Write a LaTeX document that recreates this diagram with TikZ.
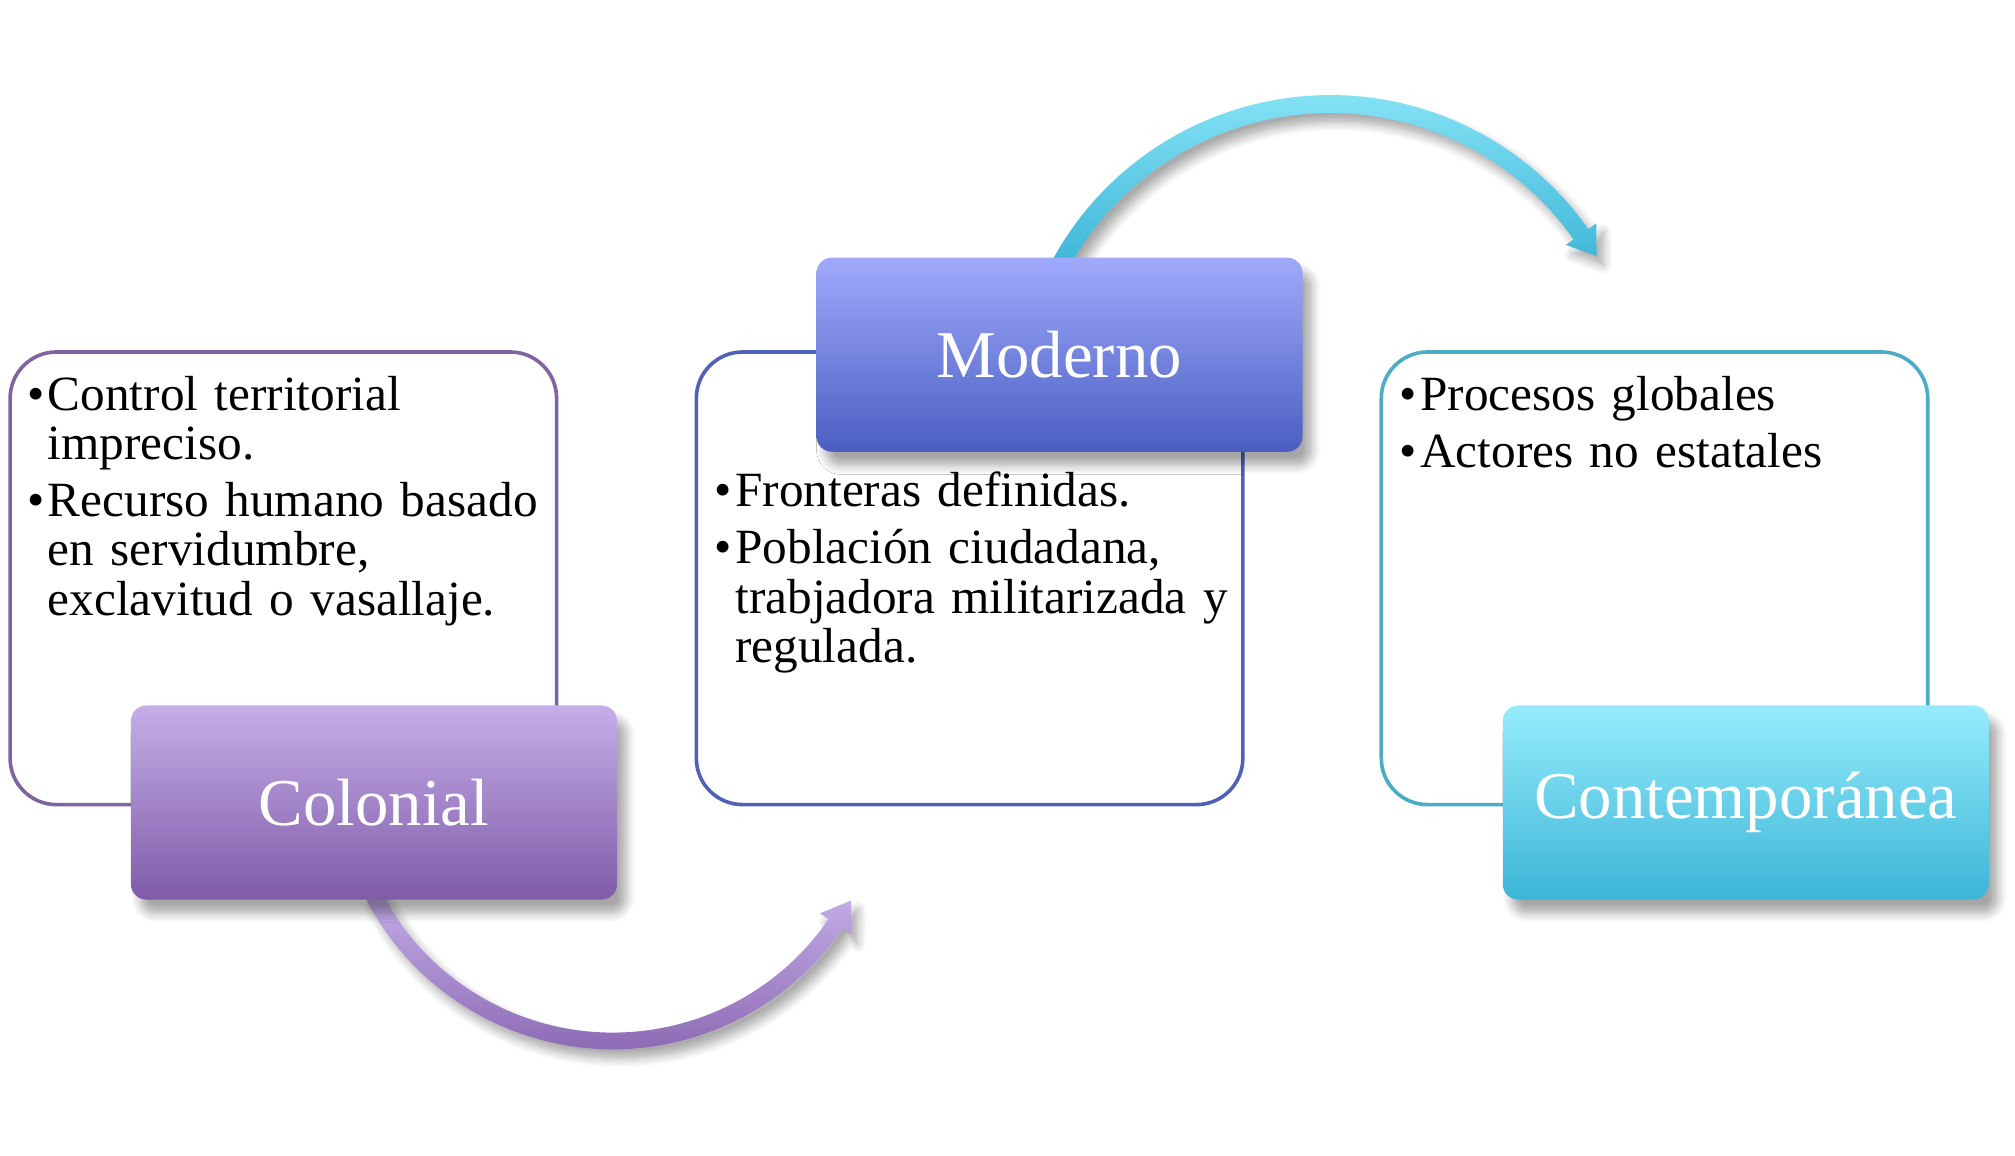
\documentclass[tikz,border=0pt]{standalone}
\usepackage{fontspec}
\setmainfont{Liberation Serif}
\usepackage{tikz}
\usetikzlibrary{positioning,shadows.blur}
\definecolor{colTop}{HTML}{C6AEE9}
\definecolor{colBot}{HTML}{7F5BA8}
\definecolor{colLine}{HTML}{8064A2}
\definecolor{modTop}{HTML}{A0AAFC}
\definecolor{modBot}{HTML}{4A5EC2}
\definecolor{modLine}{HTML}{4F62B8}
\definecolor{conTop}{HTML}{96ECFC}
\definecolor{conBot}{HTML}{3BB5D7}
\definecolor{conLine}{HTML}{4BACC6}
\newcommand{\bodyfont}{\fontsize{10.9}{10.95}\selectfont\setlength\parskip{1.6pt}}
\newcommand{\titlefont}{\fontsize{14.8}{17}\selectfont}
\newcommand{\itm}[1]{\par\noindent\makebox[0.42em][l]{\textbullet}\parbox[t]{3.9cm}{\raggedright #1}}

\begin{document}
\begin{tikzpicture}[
    x=0.01cm, y=-0.01cm,
    infobox/.style={rectangle, draw=#1, line width=0.8pt, rounded corners=0.36cm, fill=white, minimum width=4.25cm, minimum height=3.52cm},
    titlebox/.style={rectangle, rounded corners=0.12cm, minimum width=3.78cm, minimum height=1.51cm, top color=#1Top, bottom color=#1Bot, text=white, font=\titlefont, blur shadow={shadow xshift=2pt, shadow yshift=-3pt, shadow blur radius=2pt, shadow blur steps=8, shadow opacity=35}},
    bullets/.style={anchor=north west, inner sep=0pt, text width=4.1cm, font=\bodyfont},
    bendarrow/.style={top color=#1Top, bottom color=#1Bot, blur shadow={shadow xshift=1.5pt, shadow yshift=-2pt, shadow blur radius=2pt, shadow blur steps=8, shadow opacity=35}},
]
\useasboundingbox (0,0) rectangle (1568,899);

% Curved arrows
\coordinate (arcA) at (477,600);
\coordinate (arcB) at (1035,320);
\begin{scope}[shift={(arcA)}]
  \shade[bendarrow=col] (153:216.5) arc[start angle=153, end angle=34.5, radius=216.5]
    -- (34.5:224.5) -- (28.5:211) -- (34.5:195.5) -- (34.5:203.5)
    arc[start angle=34.5, end angle=153, radius=203.5] -- cycle;
\end{scope}
\begin{scope}[shift={(arcB)}]
  \shade[bendarrow=con] (208:246) arc[start angle=208, end angle=324.8, radius=246]
    -- (324.8:253.5) -- (329.8:240) -- (324.8:224.5) -- (324.8:232)
    arc[start angle=324.8, end angle=208, radius=232] -- cycle;
\end{scope}

% Content boxes
\node[infobox=colLine] (colbox) at (220.5,450) {};
\node[infobox=modLine] (modbox) at (754.5,450) {};
\node[infobox=conLine] (conbox) at (1287.5,450) {};

% Bullet texts
\node[bullets, below right=0.02cm and 0.14cm of colbox.north west] (coltext)
  {\itm{Control territorial\\impreciso.}\itm{Recurso humano basado\\en servidumbre,\\exclavitud o vasallaje.}};
\node[bullets, below right=0.77cm and 0.15cm of modbox.north west] (modtext)
  {\itm{Fronteras definidas.}\itm{Población ciudadana,\\trabjadora militarizada y\\regulada.}};
\node[bullets, below right=0.02cm and 0.15cm of conbox.north west] (context)
  {\itm{Procesos globales}\itm{Actores no estatales}};

% Titles
\node[titlebox=col] (coltitle) at (291,624.5) {Colonial};
\node[titlebox=mod] (modtitle) at (824.5,276) {Moderno};
\node[titlebox=con] (contitle) at (1358.5,624.5) {Contemporánea};

\end{tikzpicture}
\end{document}
